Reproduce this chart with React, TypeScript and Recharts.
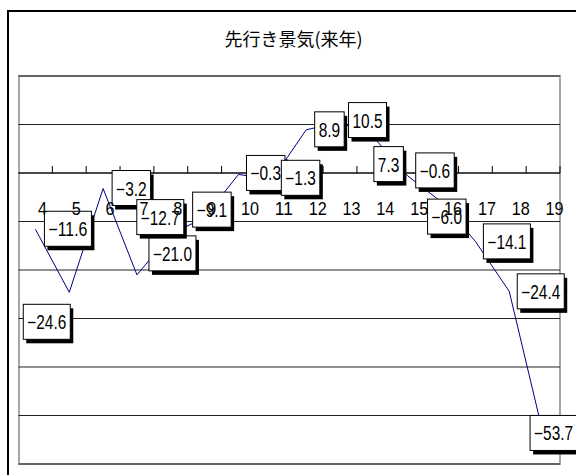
import { LineChart, Line, XAxis, YAxis, CartesianGrid, ReferenceLine, LabelList } from "recharts"

// 先行き景気(来年) — DI by survey round
const categories = ["4", "5", "6", "7", "8", "9", "10", "11", "12", "13", "14", "15", "16", "17", "18", "19"]
const outlook = [-11.6, -24.6, -3.2, -21.0, -12.7, -9.1, -0.3, -1.3, 8.9, 10.5, 7.3, -0.6, -6.0, -14.1, -24.4, -53.7]
const yTicks = [-60, -50, -40, -30, -20, -10, 0, 10, 20]

// where each value box sits, as top-left offset from its point
const boxOffsets: [number, number][] = [
  [9, -18], [-46, 12], [9, -18], [12, -39], [-34, -35], [-12, -25], [8, -19], [9, -19],
  [8.5, -18], [8.5, -19.5], [0, 9], [8, -23], [-14, -3], [8, -17.5], [8, -17.5], [-13, -18],
]

const W = 576
const H = 475
const M = { top: 76, right: 16, bottom: 11, left: 18.5 }
const PLOT_W = W - M.left - M.right
const PLOT_H = H - M.top - M.bottom
const Y_MIN = -60
const Y_MAX = 20
const BAND = PLOT_W / categories.length
const ZERO_Y = M.top + (PLOT_H * Y_MAX) / (Y_MAX - Y_MIN)

const NUM_FONT = "'Liberation Sans', Arial, sans-serif"

const data = categories.map((cat, i) => ({ cat, value: outlook[i] }))

const fmt = (v: number) => (v < 0 ? "\u2212" + Math.abs(v).toFixed(1) : v.toFixed(1))

// narrow gothic-style widths; glyphs are squeezed to these via textLength
function textWidth(s: string, digit = 8.5) {
  let w = 0
  for (const ch of s) w += ch === "." ? 4.5 : ch === "\u2212" ? 9 : digit
  return w
}

function ValueBox(props: any) {
  const { x, y, value, index } = props
  const label = fmt(value)
  const tw = textWidth(label)
  const bw = tw + 8
  const bh = 35
  const [dx, dy] = boxOffsets[index] || [8, -17.5]
  const left = x + dx
  const top = y + dy
  return (
    <g>
      <rect x={left + 3} y={top + 4} width={bw} height={bh} fill="#000" />
      <rect x={left} y={top} width={bw} height={bh} fill="#fff" stroke="#000" strokeWidth={1} />
      <text
        x={left + 4}
        y={top + 25}
        textLength={tw}
        lengthAdjust="spacingAndGlyphs"
        fontSize={19.5}
        fontFamily={NUM_FONT}
        fill="#000"
      >
        {label}
      </text>
    </g>
  )
}

// zero line with small upward ticks at every category boundary
function ZeroAxis(props: any) {
  const { x1, x2, y1 } = props
  const marks = []
  for (let k = 1; k <= categories.length; k++) {
    const tx = x1 + (k * (x2 - x1)) / categories.length
    marks.push(<line key={k} x1={tx} x2={tx} y1={y1 - 7} y2={y1} stroke="#000" strokeWidth={1} />)
  }
  return (
    <g>
      <line x1={x1} x2={x2} y1={y1} y2={y1} stroke="#000" strokeWidth={1} />
      {marks}
    </g>
  )
}

function CatTick(props: any) {
  const { x, payload } = props
  const s = String(payload.value)
  return (
    <text
      x={x + 2.5}
      y={ZERO_Y + 42}
      textLength={textWidth(s, 9)}
      lengthAdjust="spacingAndGlyphs"
      fontSize={18.5}
      fontFamily={NUM_FONT}
      fill="#000"
    >
      {s}
    </text>
  )
}

export default function App() {
  return (
    <div style={{ position: "absolute", left: 0, top: 0, width: W, height: H, overflow: "hidden", background: "#fff" }}>
      <div
        style={{
          position: "absolute", left: 7, top: 10, width: 600, height: 500,
          border: "2px solid #000", boxSizing: "border-box",
        }}
      />
      <div
        style={{
          position: "absolute", left: 18, top: 75, width: 543, height: 390,
          border: "2px solid #a6a6a6", boxSizing: "border-box",
        }}
      />
      <div
        style={{
          position: "absolute", left: 7, width: 573, top: 24, textAlign: "center",
          fontFamily: "'Noto Sans CJK JP', sans-serif", fontSize: 18, lineHeight: "28px", color: "#000",
        }}
      >
        先行き景気(来年)
      </div>
      <div style={{ position: "absolute", left: 0, top: 0 }}>
        <LineChart width={W} height={H} data={data} margin={M}>
          <CartesianGrid vertical={false} horizontal stroke="#222" fill="none" />
          <ReferenceLine y={0} ifOverflow="visible" shape={<ZeroAxis />} />
          <YAxis hide type="number" domain={[Y_MIN, Y_MAX]} ticks={yTicks} />
          <Line
            type="linear"
            dataKey="value"
            stroke="#000080"
            strokeWidth={1}
            dot={false}
            isAnimationActive={false}
          >
            <LabelList dataKey="value" content={<ValueBox />} />
          </Line>
          <XAxis
            dataKey="cat"
            mirror
            interval={0}
            axisLine={false}
            tickLine={false}
            padding={{ left: BAND / 2, right: BAND / 2 }}
            tick={<CatTick />}
            {...({ zIndex: 2500 } as any)}
          />
        </LineChart>
      </div>
    </div>
  )
}
